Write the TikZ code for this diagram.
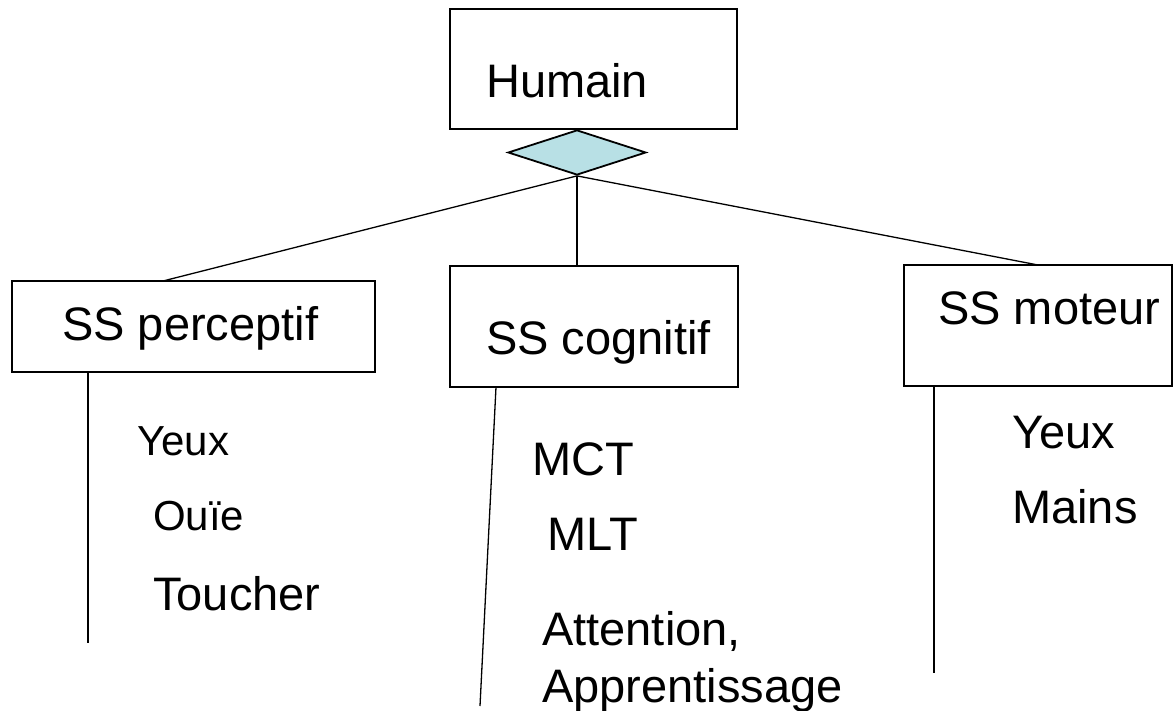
\documentclass[tikz,border=0pt]{standalone}
\usepackage{fontspec}
\setmainfont{Liberation Sans}
\usetikzlibrary{shapes.geometric}
\definecolor{diafill}{RGB}{184,224,229}
\tikzset{
  box/.style={draw=black, line width=1.8pt, rectangle, inner sep=0pt},
  lbl/.style={anchor=base west, inner sep=0pt, font=\fontsize{47}{57}\selectfont},
  lblsmall/.style={anchor=base west, inner sep=0pt, font=\fontsize{42}{50}\selectfont},
  link/.style={draw=black, line width=1.3pt},
}
\begin{document}
\begin{tikzpicture}[x=1pt,y=-1pt]
\useasboundingbox[fill=white] (0,0) rectangle (1175,711);

% top node and its aggregation diamond
\node[box, minimum width=287pt, minimum height=120pt] (hum) at (593.5,69) {};
\node[lbl] (humT) at (486,98) {Humain};
\node[draw=black, line width=1.8pt, fill=diafill, diamond, inner sep=0pt,
      minimum width=138pt, minimum height=45pt] (dia) at (577,152.5) {};

% three subsystems
\node[box, minimum width=363pt, minimum height=91pt] (per) at (193.5,326.5) {};
\node[lbl] (perT) at (62,340) {SS perceptif};
\node[box, minimum width=288pt, minimum height=121pt] (cog) at (594,326.5) {};
\node[lbl] (cogT) at (486,354) {SS cognitif};
\node[box, minimum width=268pt, minimum height=121pt] (mot) at (1038,325.5) {};
\node[lbl] (motT) at (938,324) {SS moteur};

% attachment points on the subsystem boxes
\coordinate (perTop) at (163,281);
\coordinate (motTop) at (1038,265);
\draw[link] (dia.south) -- (perTop);
\draw[link] (dia.south) -- (dia.south |- cog.north);
\draw[link] (dia.south) -- (motTop);

% vertical legs under each subsystem
\coordinate (perEnd) at (88,643);
\coordinate (cogStart) at (496,387);
\coordinate (cogEnd) at (480,706);
\coordinate (motEnd) at (934,673);
\draw[link] (per.south -| perEnd) -- (perEnd);
\draw[link] (cogStart) -- (cogEnd);
\draw[link] (mot.south -| motEnd) -- (motEnd);

% perceptual components
\node[lblsmall] (p1) at (137,455) {Yeux};
\node[lblsmall] (p2) at (153,530) {Ouïe};
\node[lbl] (p3) at (153,610) {Toucher};

% cognitive components
\node[lbl] (c1) at (532,475) {MCT};
\node[lbl] (c2) at (547,550) {MLT};
\node[lbl] (c3) at (542,645) {Attention,};
\node[lbl] (c4) at (542,702) {Apprentissage};

% motor components
\node[lbl] (m1) at (1012,448) {Yeux};
\node[lbl] (m2) at (1012,523) {Mains};
\end{tikzpicture}
\end{document}
